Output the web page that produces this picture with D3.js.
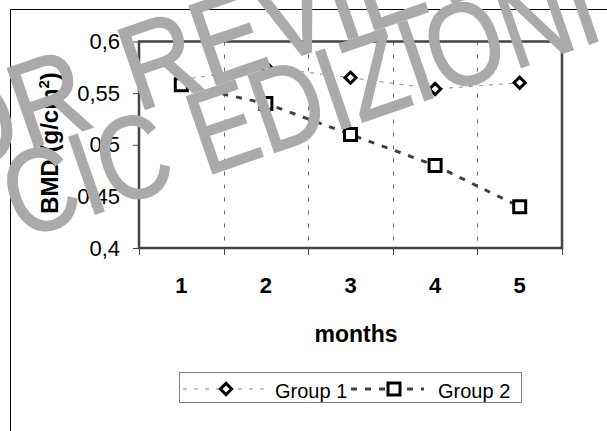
<!DOCTYPE html>
<html><head><meta charset="utf-8">
<script src="https://cdn.jsdelivr.net/npm/d3@7"></script>
<style>
html,body{margin:0;padding:0;background:#fff;}
svg{display:block;}
text{font-family:"Liberation Sans",Arial,Helvetica,sans-serif;}
</style></head><body>
<svg id="c" width="607" height="431"></svg>
<script>
// ---- data ----
const months = ["1","2","3","4","5"];
const group1 = [0.563, 0.575, 0.565, 0.554, 0.560];
const group2 = [0.558, 0.540, 0.510, 0.480, 0.440];
const yTicks = [0.4, 0.45, 0.5, 0.55, 0.6];
const yTickLabels = ["0,4", "0,45", "0,5", "0,55", "0,6"];
const seriesNames = ["Group 1", "Group 2"];
const xTitle = "months";
const yTitleMain = "BMD (g/cm";
const yTitleSup = "2";
const yTitleEnd = ")";
const watermarkLines = ["FOR REVIEW", "CIC EDIZIONI"];

// ---- layout ----
const svg = d3.select("#c");
const L = 139, R = 562, T = 41.5, B = 248;

const x = d3.scaleBand().domain(months).range([L, R]).padding(0);
const y = d3.scaleLinear().domain([0.4, 0.6]).range([B, T]);
const cx = m => x(m) + x.bandwidth() / 2;

// outer chart frame
svg.append("path").attr("d", "M10.5,431 V9.5 H607")
  .attr("fill", "none").attr("stroke", "#000").attr("stroke-width", 1);

// plot area
svg.append("rect").attr("x", L).attr("y", T).attr("width", R - L).attr("height", B - T)
  .attr("fill", "#fff");

// vertical dashed gridlines at category boundaries
svg.append("g").selectAll("line").data(months.slice(1)).join("line")
  .attr("x1", d => Math.round(x(d)) + 0.5).attr("x2", d => Math.round(x(d)) + 0.5)
  .attr("y1", T).attr("y2", B)
  .attr("stroke", "#6a6a6a").attr("stroke-width", 1).attr("stroke-dasharray", "4,9");

// y axis
const yAxis = svg.append("g").attr("transform", `translate(${L},0)`)
  .call(d3.axisLeft(y).tickValues(yTicks).tickSize(6).tickPadding(13)
    .tickFormat((d, i) => yTickLabels[i]));
yAxis.select(".domain").remove();
yAxis.selectAll(".tick line").attr("stroke", "#444");
yAxis.selectAll(".tick text").attr("font-size", 22).attr("fill", "#000")
  .attr("font-family", "'Liberation Sans',Arial,sans-serif");

// x axis: tick marks at band boundaries
const bounds = months.map(m => x(m)).concat([x.range()[1]]);
svg.append("g").selectAll("line").data(bounds).join("line")
  .attr("x1", d => Math.round(d) + 0.5).attr("x2", d => Math.round(d) + 0.5)
  .attr("y1", B).attr("y2", B + 7).attr("stroke", "#444").attr("stroke-width", 1);

// x axis labels
const xAxis = svg.append("g").attr("transform", `translate(0,${B})`)
  .call(d3.axisBottom(x).tickSize(0).tickPadding(29));
xAxis.select(".domain").remove();
xAxis.selectAll(".tick text").attr("font-size", 22).attr("font-weight", "bold")
  .attr("fill", "#000").attr("font-family", "'Liberation Sans',Arial,sans-serif");

// plot border
svg.append("rect").attr("x", L).attr("y", T).attr("width", R - L).attr("height", B - T)
  .attr("fill", "none").attr("stroke", "#444").attr("stroke-width", 2.5);

// axis titles
svg.append("text").attr("x", 356).attr("y", 342).attr("text-anchor", "middle")
  .attr("font-size", 23).attr("font-weight", "bold").text(xTitle);

const yt = svg.append("text").attr("transform", "translate(58,143) rotate(-90)")
  .attr("text-anchor", "middle").attr("font-size", 24).attr("font-weight", "bold");
yt.append("tspan").text(yTitleMain);
yt.append("tspan").attr("font-size", 15).attr("dy", -9).text(yTitleSup);
yt.append("tspan").attr("dy", 9).text(yTitleEnd);

// series
const line = d3.line().x(d => cx(d.m)).y(d => y(d.v));
const s1 = months.map((m, i) => ({m, v: group1[i]}));
const s2 = months.map((m, i) => ({m, v: group2[i]}));

const diamond = r => `M0,${-r}L${r},0L0,${r}L${-r},0Z`;
const square = s => `M${-s/2},${-s/2}H${s/2}V${s/2}H${-s/2}Z`;

svg.append("path").datum(s1).attr("d", line).attr("fill", "none")
  .attr("stroke", "#8a8a8a").attr("stroke-width", 1).attr("stroke-dasharray", "4,6");
svg.append("g").selectAll("path").data(s1).join("path")
  .attr("transform", d => `translate(${cx(d.m)},${y(d.v)})`)
  .attr("d", diamond(5.6)).attr("fill", "#fff").attr("stroke", "#000").attr("stroke-width", 3);

svg.append("path").datum(s2).attr("d", line).attr("fill", "none")
  .attr("stroke", "#404040").attr("stroke-width", 3).attr("stroke-dasharray", "6,8");
svg.append("g").selectAll("path").data(s2).join("path")
  .attr("transform", d => `translate(${cx(d.m)},${y(d.v)})`)
  .attr("d", square(12)).attr("fill", "#fff").attr("stroke", "#000").attr("stroke-width", 3);

// legend
const lg = svg.append("g");
lg.append("rect").attr("x", 179.5).attr("y", 372.5).attr("width", 342).attr("height", 30)
  .attr("fill", "#fff").attr("stroke", "#808080").attr("stroke-width", 1);
const ly = 389;
lg.append("line").attr("x1", 183).attr("x2", 268).attr("y1", ly).attr("y2", ly)
  .attr("stroke", "#8a8a8a").attr("stroke-width", 1).attr("stroke-dasharray", "4,7");
lg.append("path").attr("transform", `translate(226,${ly})`).attr("d", diamond(5.6))
  .attr("fill", "#fff").attr("stroke", "#000").attr("stroke-width", 3);
lg.append("text").attr("x", 275).attr("y", 398).attr("font-size", 20).text(seriesNames[0]);
lg.append("line").attr("x1", 351).attr("x2", 424).attr("y1", ly).attr("y2", ly)
  .attr("stroke", "#404040").attr("stroke-width", 3).attr("stroke-dasharray", "6,8");
lg.append("path").attr("transform", `translate(394,${ly})`).attr("d", square(12))
  .attr("fill", "#fff").attr("stroke", "#000").attr("stroke-width", 3);
lg.append("text").attr("x", 438).attr("y", 398).attr("font-size", 20).text(seriesNames[1]);

// watermark (condensed, rotated)
const wmPos = [[-110, 197], [20, 240]];
const wmWordSpacing = [15, 0];
const wmSize = [121, 118];
const wmSquash = [0.86, 0.83];
svg.append("g").selectAll("text").data(watermarkLines).join("text")
  .attr("transform", (d, i) => `translate(${wmPos[i][0]},${wmPos[i][1]}) rotate(-19) scale(${wmSquash[i]},1)`)
  .attr("font-size", (d, i) => wmSize[i]).attr("word-spacing", (d, i) => wmWordSpacing[i])
  .attr("fill", "#aaaaaa").attr("stroke", "#aaaaaa").attr("stroke-width", 1.5)
  .text(d => d);
</script>
</body></html>
